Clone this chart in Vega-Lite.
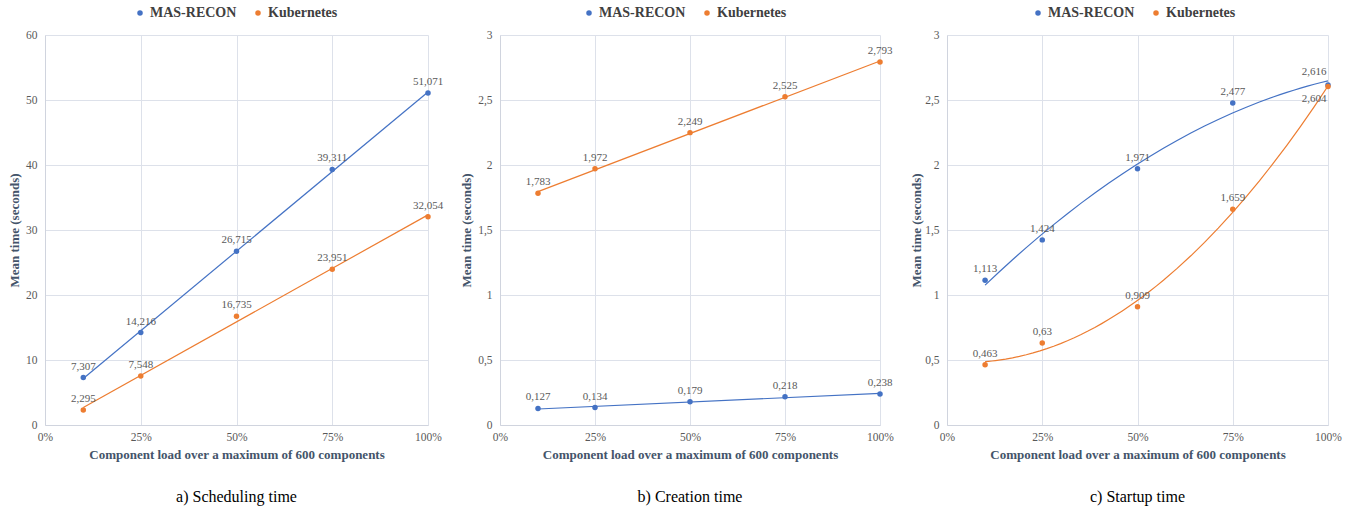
{
  "$schema": "https://vega.github.io/schema/vega-lite/v6.json",
  "padding": {"left": 8, "top": 6, "right": 5, "bottom": 5},
  "config": {
    "locale": {"number": {"decimal": ",", "thousands": ".", "grouping": [3], "currency": ["", " €"]}},
    "font": "Liberation Serif, Times New Roman, DejaVu Serif, serif",
    "view": {"stroke": null},
    "concat": {"spacing": 16},
    "axis": {
      "labelFont": "Liberation Serif, Times New Roman, DejaVu Serif, serif", "labelColor": "#595959", "labelFontSize": 11.5,
      "titleFont": "Liberation Serif, Times New Roman, DejaVu Serif, serif", "titleFontWeight": "bold", "titleColor": "#44546A", "titleFontSize": 13,
      "gridColor": "#DDE1EA", "domainColor": "#D0D4DE", "ticks": false, "labelFlush": false
    },
    "title": {"font": "Liberation Serif, Times New Roman, DejaVu Serif, serif", "fontSize": 16, "fontWeight": "normal", "color": "#000000", "orient": "bottom", "anchor": "middle", "offset": 27},
    "text": {"font": "Liberation Serif, Times New Roman, DejaVu Serif, serif"},
    "legend": {
      "orient": "none", "direction": "horizontal", "title": null,
      "labelFont": "Liberation Serif, Times New Roman, DejaVu Serif, serif", "labelFontWeight": "bold", "labelFontSize": 14, "labelColor": "#404040",
      "symbolType": "circle", "symbolSize": 30, "symbolStrokeWidth": 0, "columnPadding": 14, "labelOffset": 3
    }
  },
  "datasets": {
    "sched": [
      {"series": "MAS-RECON", "load": 0.1, "t": 7.307},
      {"series": "MAS-RECON", "load": 0.25, "t": 14.216},
      {"series": "MAS-RECON", "load": 0.5, "t": 26.715},
      {"series": "MAS-RECON", "load": 0.75, "t": 39.311},
      {"series": "MAS-RECON", "load": 1, "t": 51.071},
      {"series": "Kubernetes", "load": 0.1, "t": 2.295},
      {"series": "Kubernetes", "load": 0.25, "t": 7.548},
      {"series": "Kubernetes", "load": 0.5, "t": 16.735},
      {"series": "Kubernetes", "load": 0.75, "t": 23.951},
      {"series": "Kubernetes", "load": 1, "t": 32.054}
    ],
    "creat": [
      {"series": "MAS-RECON", "load": 0.1, "t": 0.127},
      {"series": "MAS-RECON", "load": 0.25, "t": 0.134},
      {"series": "MAS-RECON", "load": 0.5, "t": 0.179},
      {"series": "MAS-RECON", "load": 0.75, "t": 0.218},
      {"series": "MAS-RECON", "load": 1, "t": 0.238},
      {"series": "Kubernetes", "load": 0.1, "t": 1.783},
      {"series": "Kubernetes", "load": 0.25, "t": 1.972},
      {"series": "Kubernetes", "load": 0.5, "t": 2.249},
      {"series": "Kubernetes", "load": 0.75, "t": 2.525},
      {"series": "Kubernetes", "load": 1, "t": 2.793}
    ],
    "start": [
      {"series": "MAS-RECON", "load": 0.1, "t": 1.113},
      {"series": "MAS-RECON", "load": 0.25, "t": 1.424},
      {"series": "MAS-RECON", "load": 0.5, "t": 1.971},
      {"series": "MAS-RECON", "load": 0.75, "t": 2.477},
      {"series": "MAS-RECON", "load": 1, "t": 2.616},
      {"series": "Kubernetes", "load": 0.1, "t": 0.463},
      {"series": "Kubernetes", "load": 0.25, "t": 0.63},
      {"series": "Kubernetes", "load": 0.5, "t": 0.909},
      {"series": "Kubernetes", "load": 0.75, "t": 1.659},
      {"series": "Kubernetes", "load": 1, "t": 2.604}
    ]
  },
  "hconcat": [
    {
      "width": 383, "height": 390,
      "data": {"name": "sched"},
      "title": {"text": "a) Scheduling time"},
      "encoding": {
        "x": {"field": "load", "type": "quantitative", "scale": {"domain": [0, 1], "nice": false},
              "axis": {"values": [0, 0.25, 0.5, 0.75, 1], "format": ".0%", "title": "Component load over a maximum of 600 components", "labelPadding": 6, "titlePadding": 6}},
        "y": {"field": "t", "type": "quantitative", "scale": {"domain": [0, 60], "nice": false},
              "axis": {"values": [0, 10, 20, 30, 40, 50, 60], "format": "~r", "title": "Mean time (seconds)", "labelPadding": 8, "titlePadding": 4}},
        "color": {"field": "series", "type": "nominal", "scale": {"domain": ["MAS-RECON", "Kubernetes"], "range": ["#4472C4", "#ED7D31"]},
                  "legend": {"legendX": 88, "legendY": -29}}
      },
      "layer": [
        {"transform": [{"regression": "t", "on": "load", "groupby": ["series"]}], "mark": {"type": "line", "strokeWidth": 1.2}},
        {"mark": {"type": "circle", "size": 30, "opacity": 1}},
        {"mark": {"type": "text", "dy": -11, "fontSize": 11}, "encoding": {"color": {"value": "#595959"}, "text": {"field": "t", "type": "quantitative", "format": "~r"}}}
      ]
    },
    {
      "width": 380, "height": 390,
      "data": {"name": "creat"},
      "title": {"text": "b) Creation time"},
      "encoding": {
        "x": {"field": "load", "type": "quantitative", "scale": {"domain": [0, 1], "nice": false},
              "axis": {"values": [0, 0.25, 0.5, 0.75, 1], "format": ".0%", "title": "Component load over a maximum of 600 components", "labelPadding": 6, "titlePadding": 6}},
        "y": {"field": "t", "type": "quantitative", "scale": {"domain": [0, 3], "nice": false},
              "axis": {"values": [0, 0.5, 1, 1.5, 2, 2.5, 3], "format": "~r", "title": "Mean time (seconds)", "labelPadding": 8, "titlePadding": 4}},
        "color": {"field": "series", "type": "nominal", "scale": {"domain": ["MAS-RECON", "Kubernetes"], "range": ["#4472C4", "#ED7D31"]},
                  "legend": {"legendX": 82, "legendY": -29}}
      },
      "layer": [
        {"transform": [{"regression": "t", "on": "load", "groupby": ["series"]}], "mark": {"type": "line", "strokeWidth": 1.2}},
        {"mark": {"type": "circle", "size": 30, "opacity": 1}},
        {"mark": {"type": "text", "dy": -11, "fontSize": 11}, "encoding": {"color": {"value": "#595959"}, "text": {"field": "t", "type": "quantitative", "format": "~r"}}}
      ]
    },
    {
      "width": 381, "height": 390,
      "data": {"name": "start"},
      "title": {"text": "c) Startup time"},
      "encoding": {
        "x": {"field": "load", "type": "quantitative", "scale": {"domain": [0, 1], "nice": false},
              "axis": {"values": [0, 0.25, 0.5, 0.75, 1], "format": ".0%", "title": "Component load over a maximum of 600 components", "labelPadding": 6, "titlePadding": 6}},
        "y": {"field": "t", "type": "quantitative", "scale": {"domain": [0, 3], "nice": false},
              "axis": {"values": [0, 0.5, 1, 1.5, 2, 2.5, 3], "format": "~r", "title": "Mean time (seconds)", "labelPadding": 8, "titlePadding": 1}},
        "color": {"field": "series", "type": "nominal", "scale": {"domain": ["MAS-RECON", "Kubernetes"], "range": ["#4472C4", "#ED7D31"]},
                  "legend": {"legendX": 84, "legendY": -29}}
      },
      "layer": [
        {"transform": [{"regression": "t", "on": "load", "groupby": ["series"], "method": "poly", "order": 2}], "mark": {"type": "line", "strokeWidth": 1.2}},
        {"mark": {"type": "circle", "size": 30, "opacity": 1}},
        {"transform": [{"filter": "datum.load < 1"}], "mark": {"type": "text", "dy": -11, "fontSize": 11}, "encoding": {"color": {"value": "#595959"}, "text": {"field": "t", "type": "quantitative", "format": "~r"}}},
        {"transform": [{"filter": "datum.load == 1 && datum.series == 'MAS-RECON'"}], "mark": {"type": "text", "dy": -13, "dx": -14, "fontSize": 11}, "encoding": {"color": {"value": "#595959"}, "text": {"field": "t", "type": "quantitative", "format": "~r"}}},
        {"transform": [{"filter": "datum.load == 1 && datum.series == 'Kubernetes'"}], "mark": {"type": "text", "dy": 13, "dx": -14, "fontSize": 11}, "encoding": {"color": {"value": "#595959"}, "text": {"field": "t", "type": "quantitative", "format": "~r"}}}
      ]
    }
  ],
  "resolve": {"scale": {"x": "independent", "y": "independent", "color": "independent"}, "legend": {"color": "independent"}}
}
